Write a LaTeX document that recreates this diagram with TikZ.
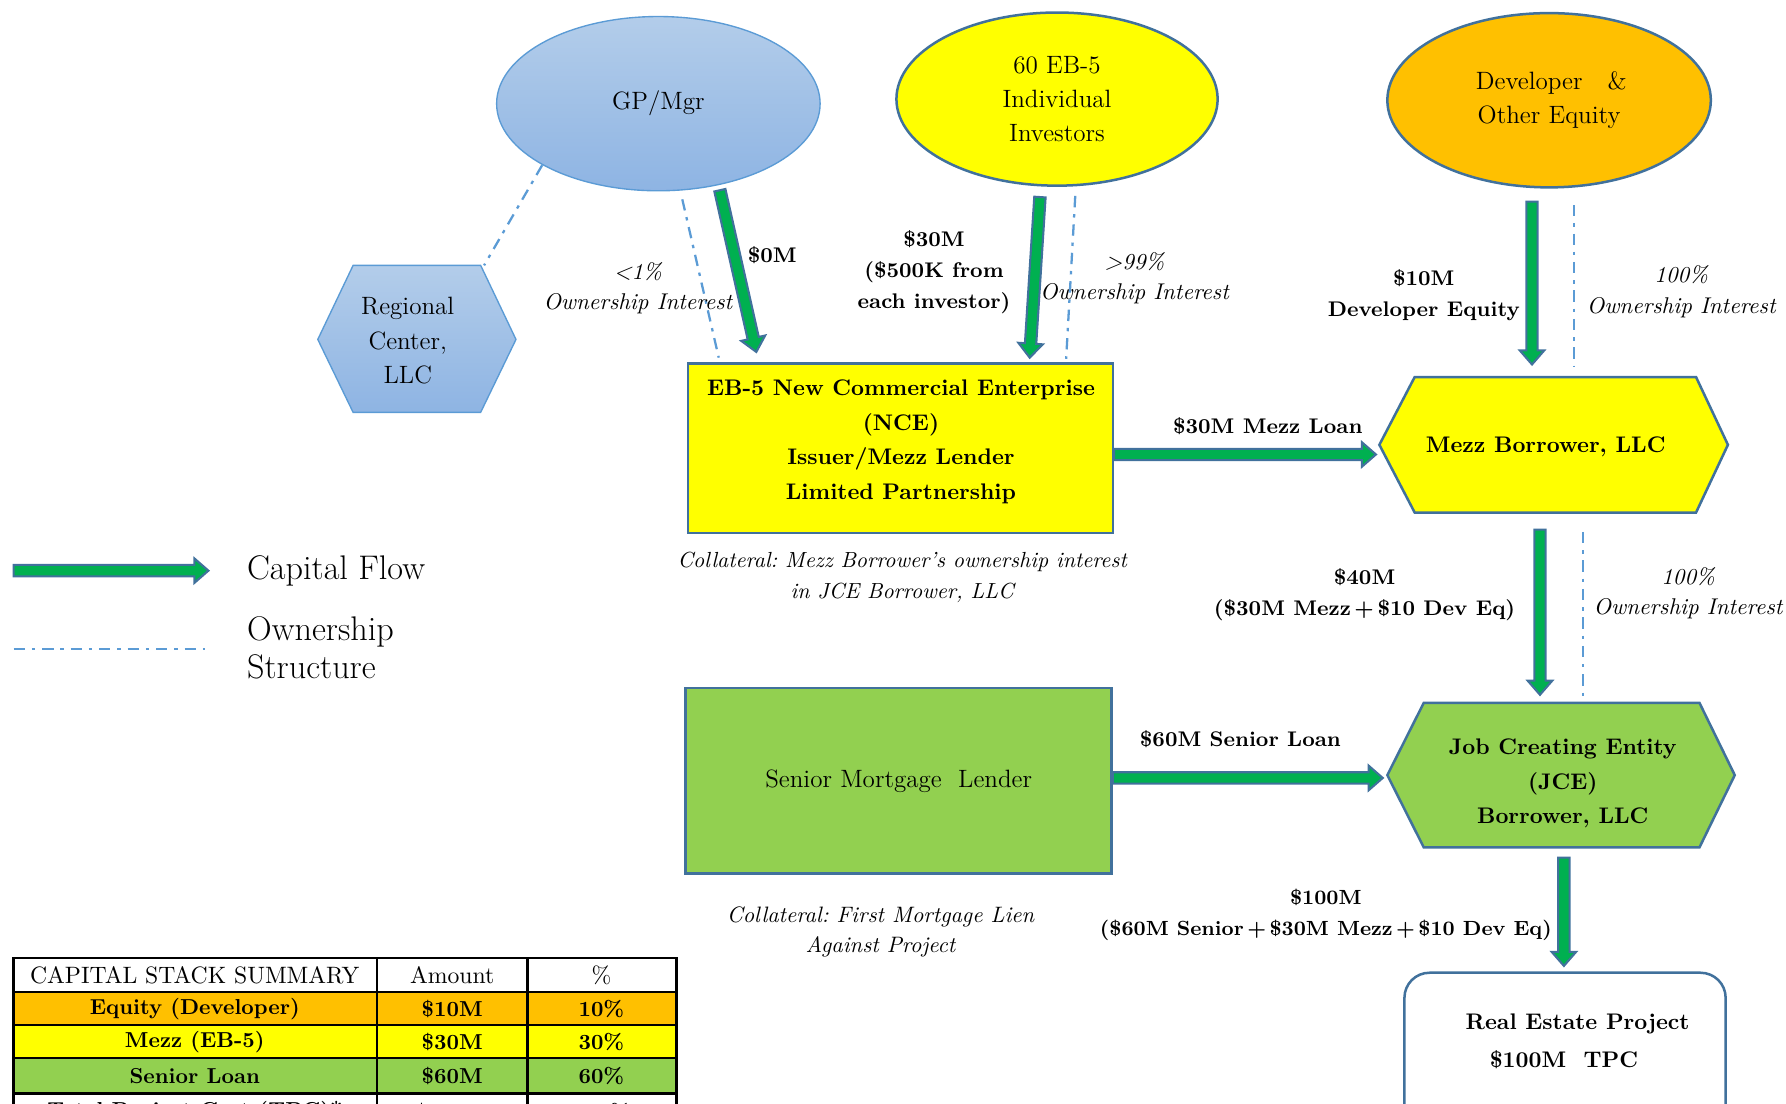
\documentclass[tikz,border=0pt]{standalone}
\usetikzlibrary{calc,shapes.geometric}

\definecolor{bcol}{HTML}{41719C}
\definecolor{ylw}{HTML}{FFFF00}
\definecolor{org}{HTML}{FFC000}
\definecolor{grn}{HTML}{92D050}
\definecolor{agrn}{HTML}{00B050}
\definecolor{oblue}{HTML}{5B9BD5}
\definecolor{lbtop}{HTML}{B3CDEA}
\definecolor{lbbot}{HTML}{8EB4E3}

\frenchspacing
\newcommand\fsw{2.5pt}
\newcommand\fhw{5.4pt}
\newcommand\fhl{6.2pt}
\newcommand\flowarrow[2]{%
  \draw[flowsty] let \p1=(#1), \p2=(#2),
    \n1={atan2(\y2-\y1,\x2-\x1)},
    \n2={veclen(\x2-\x1,\y2-\y1)-\fhl} in
    ($(\p1)+(\n1+90:\fsw)$) --
    ($(\p1)+(\n1:{\n2*1pt})+(\n1+90:\fsw)$) --
    ($(\p1)+(\n1:{\n2*1pt})+(\n1+90:\fhw)$) --
    (\p2) --
    ($(\p1)+(\n1:{\n2*1pt})+(\n1-90:\fhw)$) --
    ($(\p1)+(\n1:{\n2*1pt})+(\n1-90:\fsw)$) --
    ($(\p1)+(\n1-90:\fsw)$) -- cycle;}

\begin{document}
\frenchspacing
\begin{tikzpicture}[x=0.5pt,y=-0.5pt,
  every node/.style={inner sep=0pt,outer sep=0pt},
  flowsty/.style={fill=agrn,draw=bcol,line width=0.9pt,line join=miter},
  own/.style={draw=oblue,line width=1pt,dash pattern=on 5pt off 3pt on 1.5pt off 3pt},
  boxsty/.style={draw=bcol,line width=1.1pt},
  regtxt/.style={align=center,font=\fontsize{11}{15}\selectfont},
  bldtxt/.style={align=center,font=\fontsize{9.9}{15.2}\selectfont\bfseries},
  lbl/.style={align=center,font=\fontsize{9.3}{13.5}\selectfont\bfseries},
  itl/.style={align=center,font=\fontsize{10}{13.3}\selectfont\itshape},
  tabline/.style={draw=black,line width=1.1pt},
  tabh/.style={font=\fontsize{10.4}{12}\selectfont},
  tabb/.style={font=\fontsize{9.5}{12}\selectfont\bfseries}]
\useasboundingbox (0,0) rectangle (1568,969);
\begin{scope}
\clip (0,0) rectangle (1568,969);

% ---------------- shapes ----------------
\node[ellipse,minimum width=142pt,minimum height=76.5pt,top color=lbtop,bottom color=lbbot,
  draw=oblue,line width=0.6pt,font=\fontsize{11}{15}\selectfont] (gp) at (578,91) {GP/Mgr};
\node[ellipse,minimum width=141pt,minimum height=76pt,fill=ylw,boxsty,align=center,
  font=\fontsize{11}{14.75}\selectfont] (inv) at (928,87) {60 EB-5\\Individual\\Investors};
\node[ellipse,minimum width=142pt,minimum height=76.5pt,fill=org,boxsty,regtxt] (dev) at (1360,88)
  {\hspace*{2pt}Developer\quad\&\\Other Equity};

% regional center hexagon
\coordinate (reg) at (358,299);
\path[top color=lbtop,bottom color=lbbot,draw=oblue,line width=0.6pt]
  ($(reg)+(-79,-1)$) -- ($(reg)+(-48,-66)$) -- ($(reg)+(64,-66)$) -- ($(reg)+(95,-1)$)
  -- ($(reg)+(64,63)$) -- ($(reg)+(-48,63)$) -- cycle;
\node[regtxt] (regt) at (reg) {Regional\\Center,\\LLC};

% NCE box
\node[boxsty,fill=ylw,minimum width=186.5pt,minimum height=74.5pt] (nce) at (790.5,393.5) {};
\node[bldtxt] (ncet) at (791,388) {EB-5 New Commercial Enterprise\\(NCE)\\Issuer/Mezz Lender\\Limited Partnership};

% Mezz borrower hexagon
\node[minimum width=153pt,minimum height=59.5pt] (mezz) at (1364,390.5) {};
\path[boxsty,fill=ylw] (mezz.west) -- ($(mezz.north west)+(31,0)$) -- ($(mezz.north east)+(-28,0)$)
  -- (mezz.east) -- ($(mezz.south east)+(-28,0)$) -- ($(mezz.south west)+(31,0)$) -- cycle;
\node[bldtxt] (mezzt) at (1357,392) {Mezz Borrower, LLC};

% Senior lender
\node[boxsty,fill=grn,minimum width=187pt,minimum height=81.5pt,font=\fontsize{11}{15}\selectfont]
  (sen) at (789,685.5) {Senior Mortgage\ \ Lender};

% JCE hexagon
\node[minimum width=152.5pt,minimum height=63.5pt] (jce) at (1370.5,680.5) {};
\path[boxsty,fill=grn] (jce.west) -- ($(jce.north west)+(32,0)$) -- ($(jce.north east)+(-31,0)$)
  -- (jce.east) -- ($(jce.south east)+(-31,0)$) -- ($(jce.south west)+(32,0)$) -- cycle;
\node[bldtxt] (jcet) at (1372,688) {Job Creating Entity\\(JCE)\\Borrower, LLC};

% Real estate project
\node[boxsty,rounded corners=11pt,fill=white,minimum width=141pt,minimum height=70pt] (re) at (1374,924) {};
\node[bldtxt] (ret1) at (1385,899) {Real Estate Project};
\node[bldtxt] (ret2) at (1373,930) {\$100M\ \ TPC};

% ---------------- ownership lines ----------------
\coordinate (o0a) at (476,145); \coordinate (o0b) at (425,233);
\coordinate (o1a) at (599,175); \coordinate (o1b) at (631,314);
\coordinate (o2a) at (944,172); \coordinate (o2b) at (936,315);
\coordinate (o3a) at (1382,180); \coordinate (o3b) at (1382,322);
\coordinate (o4a) at (1390,467); \coordinate (o4b) at (1390,612);
\draw[own] (o0a) -- (o0b);
\draw[own] (o1a) -- (o1b);
\draw[own] (o2a) -- (o2b);
\draw[own] (o3a) -- (o3b);
\draw[own] (o4a) -- (o4b);

% ---------------- capital flow arrows ----------------
\coordinate (f1a) at (632,167);  \coordinate (f1b) at (664,309);
\coordinate (f2a) at (913,173);  \coordinate (f2b) at (904,314);
\coordinate (f3a) at (1345,177); \coordinate (f3b) at (1345,320);
\coordinate (f4a) at (978,399);  \coordinate (f4b) at (1208,399);
\coordinate (f5a) at (1352,465); \coordinate (f5b) at (1352,610);
\coordinate (f6a) at (977,683);  \coordinate (f6b) at (1214,683);
\coordinate (f7a) at (1373,753); \coordinate (f7b) at (1373,848);
\flowarrow{f1a}{f1b}
\flowarrow{f2a}{f2b}
\flowarrow{f3a}{f3b}
\flowarrow{f4a}{f4b}
\flowarrow{f5a}{f5b}
\flowarrow{f6a}{f6b}
\flowarrow{f7a}{f7b}

% ---------------- labels ----------------
\node[lbl] (l0) at (678,224) {\$0M};
\node[itl] (l1) at (560,253) {<1\%\\Ownership Interest};
\node[lbl] (l2) at (820,239) {\$30M\\(\$500K from\\each investor)};
\node[itl] (l3) at (996,244) {>99\%\\Ownership Interest};
\node[lbl] (l4) at (1250,259) {\$10M\\Developer Equity};
\node[itl] (l5) at (1476,256) {100\%\\Ownership Interest};
\node[lbl] (l6) at (1113,374) {\$30M Mezz Loan};
\node[lbl] (l7) at (1198,522) {\$40M\\(\$30M Mezz\,+\,\$10 Dev Eq)};
\node[itl] (l8) at (1482,521) {100\%\\Ownership Interest};
\node[lbl] (l9) at (1089,649) {\$60M Senior Loan};
\node[lbl,font=\fontsize{9}{13.5}\selectfont\bfseries] (l10) at (1164,803)
  {\$100M\\(\$60M Senior\,+\,\$30M Mezz\,+\,\$10 Dev Eq)};
\node[itl,font=\fontsize{9.6}{13.3}\selectfont\itshape] (c1) at (792,507) {Collateral: Mezz Borrower’s ownership interest\\in JCE Borrower, LLC};
\node[itl,font=\fontsize{9.8}{13.3}\selectfont\itshape] (c2) at (773,818) {Collateral: First Mortgage Lien\\Against Project};

% ---------------- legend ----------------
\coordinate (lga) at (12,501); \coordinate (lgb) at (183,501);
\flowarrow{lga}{lgb}
\coordinate (lgc) at (12,570); \coordinate (lgd) at (180,570);
\draw[own] (lgc) -- (lgd);
\node[anchor=west,font=\fontsize{15}{16.5}\selectfont] (lt1) at (217,501) {Capital Flow};
\node[anchor=west,align=left,font=\fontsize{15}{16.5}\selectfont] (lt2) at (217,569) {Ownership\\Structure};

% ---------------- table ----------------
\fill[org] (12,871) rectangle (594,900);
\fill[ylw] (12,900) rectangle (594,929);
\fill[grn] (12,929) rectangle (594,960);
\draw[tabline] (12,841) rectangle (594,1010);
\foreach \yy in {871,900,929,960} \draw[tabline] (12,\yy) -- (594,\yy);
\draw[tabline] (331,841) -- (331,1010);
\draw[tabline] (463,841) -- (463,1010);
\node[tabh] (t11) at (171,856) {CAPITAL STACK SUMMARY};
\node[tabh] (t12) at (397,856) {Amount};
\node[tabh] (t13) at (528,856) {\%};
\node[tabb] (t21) at (171,886) {Equity (Developer)};
\node[tabb] (t22) at (397,886) {\$10M};
\node[tabb] (t23) at (528,886) {10\%};
\node[tabb] (t31) at (171,915) {Mezz (EB-5)};
\node[tabb] (t32) at (397,915) {\$30M};
\node[tabb] (t33) at (528,915) {30\%};
\node[tabb] (t41) at (171,945) {Senior Loan};
\node[tabb] (t42) at (397,945) {\$60M};
\node[tabb] (t43) at (528,945) {60\%};
\node[tabb] (t51) at (171,976) {Total Project Cost (TPC)*};
\node[tabb] (t52) at (397,976) {\$100M};
\node[tabb] (t53) at (528,976) {100\%};
\end{scope}
\end{tikzpicture}
\end{document}
